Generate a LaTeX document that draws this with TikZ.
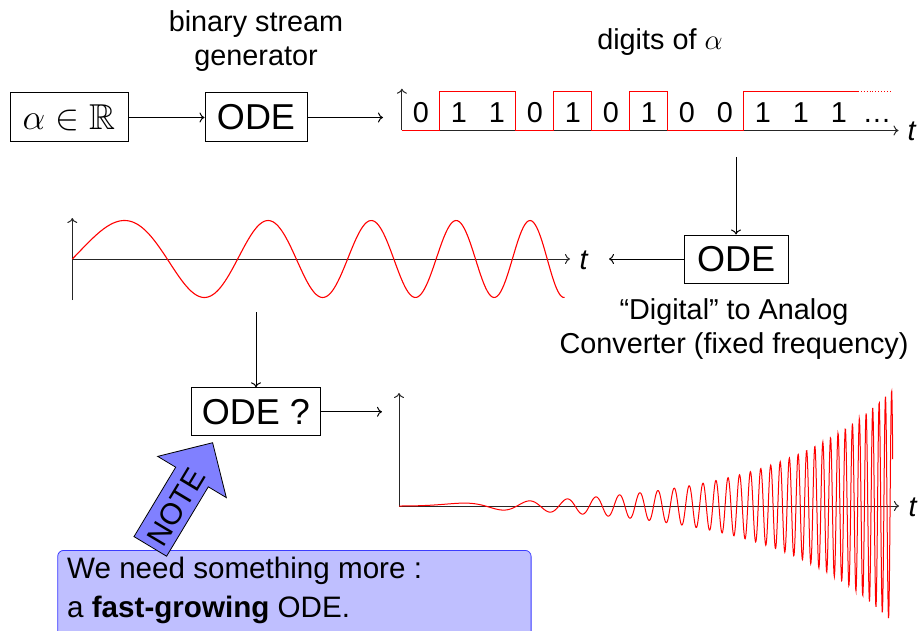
\RequirePackage{fix-cm}
\documentclass[tikz,border=0pt]{standalone}
\usepackage{amssymb}
\usepackage{fontspec}
\setmainfont{Liberation Sans}
\usetikzlibrary{arrows.meta}
\newcommand{\txtfont}{\fontsize{28.8}{33.3}\selectfont}
\newcommand{\bigfont}{\fontsize{36}{40}\selectfont}
\newcommand{\notefont}{\fontsize{29.6}{39}\selectfont}
\newcommand{\notelblfont}{\fontsize{30}{36}\selectfont}
\definecolor{noteFill}{RGB}{191,191,255}
\definecolor{noteDraw}{RGB}{60,60,255}
\definecolor{arrowFill}{RGB}{128,128,255}
\begin{document}
\begin{tikzpicture}[x=1pt,y=-1pt,
  box/.style={draw, line width=1pt, inner sep=0pt, font=\bigfont},
  lbl/.style={font=\txtfont, align=center, inner sep=0pt},
  conn/.style={-{To[length=5pt,width=10pt]}, line width=1pt},
  axis/.style={-{To[length=5pt,width=10pt]}, line width=1pt, draw=black!85},
  sig/.style={draw=red, line width=1.1pt},
  tlbl/.style={font=\txtfont, inner sep=0pt}]
\useasboundingbox (0,0) rectangle (920,631);
\clip (0,0) rectangle (920,631);

% top row
\node[box, minimum width=118, minimum height=49] (alpha) at (69,117.5) {$\alpha\in\mathbb{R}$};
\node[box, minimum width=102, minimum height=49] (ode1) at (256,117.5) {ODE};
\node[lbl] (lblgen) at (256,41) {binary stream\\generator};
\node[lbl] (lbldig) at (660,42.5) {digits of $\alpha$};
\coordinate (bitin) at (383,117.5);
\draw[conn] (alpha) -- (ode1);
\draw[conn] (ode1) -- (bitin);

% bit stream axes
\coordinate (bo) at (401.9,130.5);
\coordinate (bup) at (401.9,88.7);
\coordinate (bright) at (898.5,130.5);
\draw[axis] (bo) -- (bup);
\draw[axis] (bo) -- (bright);
\node[tlbl] (bt) at (912,131) {\textit{t}};
\draw[sig] (401.9,130.5) -- (439.9,130.5) -- (439.9,91.4) -- (515.9,91.4) -- (515.9,130.5)
  -- (553.9,130.5) -- (553.9,91.4) -- (591.9,91.4) -- (591.9,130.5) -- (629.9,130.5)
  -- (629.9,91.4) -- (667.9,91.4) -- (667.9,130.5) -- (743.9,130.5) -- (743.9,91.4) -- (857.9,91.4);
\draw[draw=red, line width=0.9pt, dotted] (857.9,91.4) -- (891.9,91.4);
\foreach \d [count=\i from 0] in {0,1,1,0,1,0,1,0,0,1,1,1}
  \node[font=\txtfont, inner sep=0pt, anchor=base] (bit\i) at ({420.9+38*\i},122.8) {\d};
\node[font=\txtfont, inner sep=0pt, anchor=base] (bitdots) at (876.9,122.8) {\dots};

% D/A converter
\node[box, minimum width=104, minimum height=48] (ode2) at (736,259) {ODE};
\node[lbl] (lbldac) at (734,329) {“Digital” to Analog\\Converter (fixed frequency)};
\coordinate (bitdown) at (736,157);
\coordinate (wavein) at (609,259);
\draw[conn] (bitdown) -- (ode2);
\draw[conn] (ode2) -- (wavein);

% middle wave
\coordinate (wo) at (72.3,259);
\coordinate (wbot) at (72.3,300);
\coordinate (wup) at (72.3,218);
\coordinate (wright) at (570,259);
\draw[axis] (wbot) -- (wup);
\draw[axis] (wo) -- (wright);
\node[tlbl] (wt) at (584,260) {\textit{t}};
\draw[sig] plot[domain=0:4.927, samples=300, smooth] ({72.3+100*\x}, {259-38.5*sin(180*(0.843*\x+0.22154*\x*\x))});

% ODE ?
\node[box, minimum width=129, minimum height=48] (odeq) at (256,411.8) {ODE ?};
\coordinate (wavedown) at (256,312);
\coordinate (fastin) at (382,411.8);
\draw[conn] (wavedown) -- (odeq);
\draw[conn] (odeq) -- (fastin);

% bottom plot
\coordinate (fo) at (399,506);
\coordinate (fup) at (399,393);
\coordinate (fright) at (899,506);
\draw[axis] (fo) -- (fup);
\draw[axis] (fo) -- (fright);
\node[tlbl] (ft) at (913,507) {\textit{t}};
\draw[draw=red, line width=1pt] plot[domain=0:4.94, samples=1500] ({399+100*\x}, {506-113*exp(0.86*(\x-4.9))*sin(180*(1.078*\x*\x+0.304*\x*\x*\x))});

% note
\node[draw=noteDraw, fill=noteFill, rounded corners=6pt, line width=0.8pt, minimum width=473.4, minimum height=110, anchor=north west, inner sep=0pt] (notebox) at (57.3,550) {};
\draw[fill=arrowFill, line width=0.8pt] (134,536.6) -- (175.7,467.2) -- (157.7,456.4) -- (212.6,442.7)
  -- (226.3,497.6) -- (208.3,486.8) -- (166.6,556.2) -- cycle;
\node[font=\notelblfont, rotate=59, inner sep=0pt] (notelbl) at (176,507) {NOTE};
\node[font=\notefont, align=left, anchor=north west, inner sep=0pt] (notetxt) at (67,556.8) {We need something more :\\a \textbf{fast-growing} ODE.};
\end{tikzpicture}
\end{document}
